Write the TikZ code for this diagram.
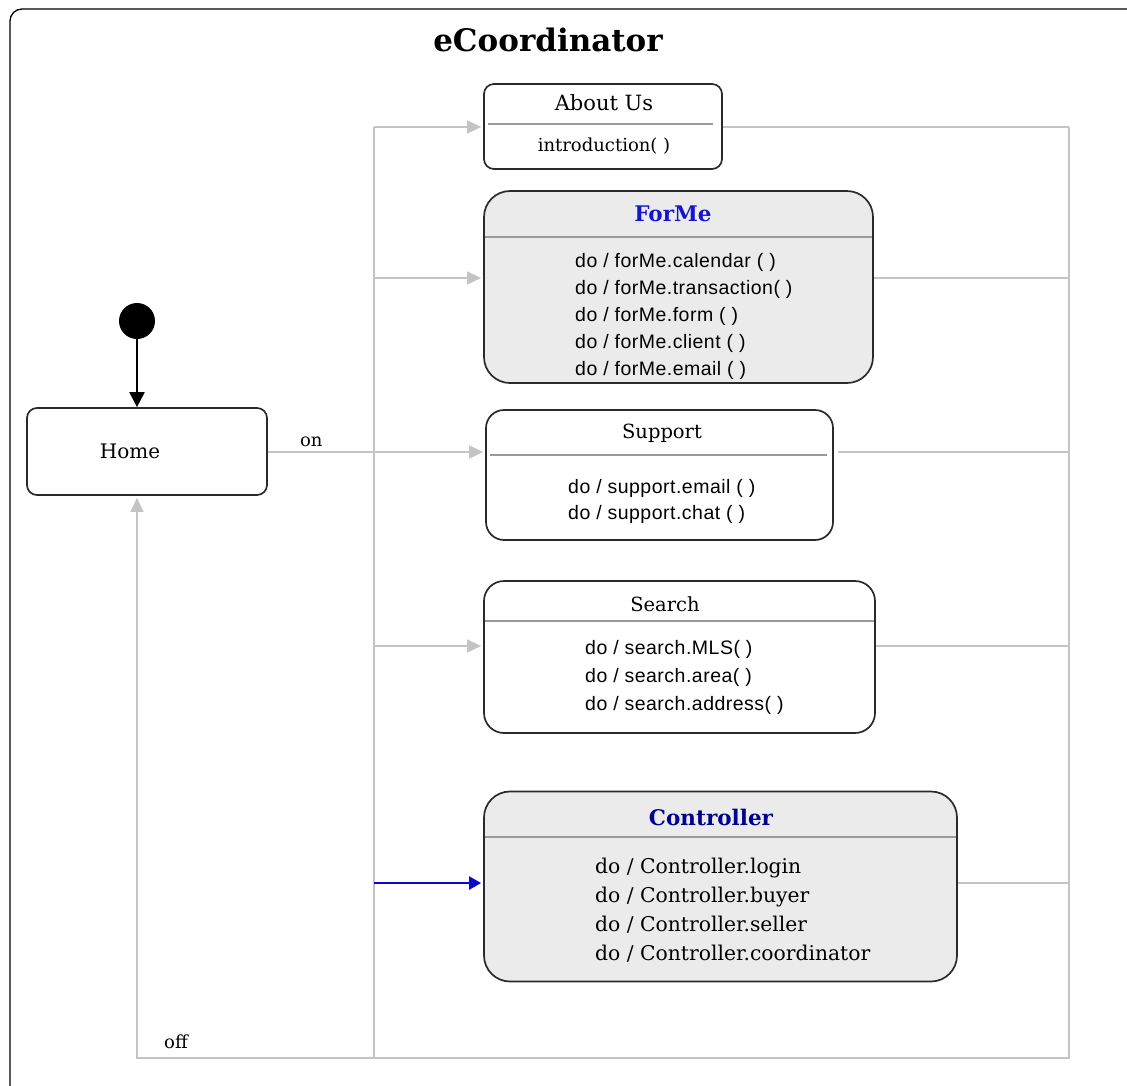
\documentclass[tikz,border=0pt]{standalone}
\usepackage{fontspec}
\setmainfont{DejaVu Serif}
\newfontfamily\lsans[LetterSpace=2.5]{Liberation Sans}
\usetikzlibrary{arrows.meta}
\definecolor{lgray}{HTML}{C4C4C4}
\definecolor{boxfill}{HTML}{EBEBEB}
\definecolor{titleblue}{HTML}{1515D0}
\definecolor{navy}{HTML}{00008F}
\definecolor{divgray}{HTML}{9A9A9A}
\definecolor{edge}{HTML}{2A2A2A}
\definecolor{arrowblue}{HTML}{0A0ACC}
\begin{document}
\begin{tikzpicture}[x=1pt,y=-1pt,
  statebox/.style={draw=edge, line width=1.7pt, inner sep=0pt},
  divider/.style={draw=divgray, line width=1.6pt},
  hd/.style={font=\fontsize{19.5}{22}\selectfont, inner sep=0pt},
  bluehd/.style={font=\bfseries\fontsize{#1}{22}\selectfont, inner sep=0pt},
  sbody/.style={font=\lsans\fontsize{19.5}{#1}\selectfont, align=left, anchor=west, inner sep=0pt},
  gline/.style={draw=lgray, line width=1.5pt},
  garrow/.style={gline, -{Triangle[length=14pt,width=13pt]}, shorten >=2pt},
  lbl/.style={font=\fontsize{18}{20}\selectfont, inner sep=0pt}
]
\useasboundingbox (0,0) rectangle (1127,1085);
\fill[white] (0,0) rectangle (1127,1085);
% outer frame
\draw[line width=1.3pt, rounded corners=12pt] (10,9) rectangle (1150,1100);
\node[font=\bfseries\fontsize{31}{33}\selectfont, inner sep=0pt] (title) at (548,40) {eCoordinator};

% states
\node[statebox, rounded corners=10pt, minimum width=238pt, minimum height=85pt] (about) at (603,126.5) {};
\draw[divider] (488,124) -- (713,124);
\node[font=\fontsize{21}{22}\selectfont, inner sep=0pt] (aboutT) at (604,103) {About Us};
\node[font=\fontsize{18}{20}\selectfont, inner sep=0pt] (aboutB) at (604,146) {introduction( )};

\node[statebox, fill=boxfill, rounded corners=26pt, minimum width=389pt, minimum height=192pt] (forme) at (678.5,287) {};
\draw[divider] (485,237) -- (872,237);
\node[bluehd=21.5, text=titleblue] (formeT) at (673,214) {ForMe};
\node[sbody=27] (formeB) at (575,316) {do / forMe.calendar ( )\\do / forMe.transaction( )\\do / forMe.form ( )\\do / forMe.client ( )\\do / forMe.email ( )};

\node[statebox, rounded corners=10pt, minimum width=240pt, minimum height=87pt] (home) at (147,451.5) {};
\node[font=\fontsize{20}{22}\selectfont, inner sep=0pt] (homeT) at (130,451) {Home};

\node[statebox, rounded corners=18pt, minimum width=347pt, minimum height=130pt] (support) at (659.5,475) {};
\draw[divider] (490,455) -- (827,455);
\node[hd] (supportT) at (662,433) {Support};
\node[sbody=26] (supportB) at (568,501) {do / support.email ( )\\do / support.chat ( )};

\node[statebox, rounded corners=20pt, minimum width=391pt, minimum height=152pt] (search) at (679.5,657) {};
\draw[divider] (485,621) -- (874,621);
\node[hd] (searchT) at (665,604) {Search};
\node[sbody=28] (searchB) at (585,677) {do / search.MLS( )\\do / search.area( )\\do / search.address( )};

\node[statebox, fill=boxfill, rounded corners=26pt, minimum width=473pt, minimum height=190pt] (ctrl) at (720.5,886.5) {};
\draw[divider] (485,837) -- (956,837);
\node[bluehd=21.5, text=navy] (ctrlT) at (711,817) {Controller};
\node[font=\fontsize{20.3}{29}\selectfont, align=left, anchor=west, inner sep=0pt] (ctrlB) at (595,910) {do / Controller.login\\do / Controller.buyer\\do / Controller.seller\\do / Controller.coordinator};

% initial state
\node[circle, fill=black, inner sep=0pt, minimum size=36pt] (init) at (137,321) {};
\draw[line width=2pt, -{Triangle[length=15pt,width=15pt]}] (init.south) -- (init.south |- home.north);

% fork / join coordinates
\coordinate (lA) at (374,127);
\coordinate (lF) at (374,278);
\coordinate (lQ) at (374,646);
\coordinate (lC) at (374,883);
\coordinate (lB) at (374,1058);
\coordinate (rA) at (1069,127);
\coordinate (rB) at (1069,1058);
\coordinate (hB) at (137,1058);
\coordinate (sY) at (0,452);

% incoming transitions
\draw[gline] (lA) -- (lB);
\draw[garrow] (lA) -- (lA -| about.west);
\draw[garrow] (lF) -- (lF -| forme.west);
\draw[garrow] (home.east |- sY) -- (sY -| support.west) node[lbl, above, pos=0.2, yshift=5pt] (onlbl) {on};
\draw[garrow] (lQ) -- (lQ -| search.west);
\draw[line width=2.2pt, draw=arrowblue, -{Triangle[length=12pt,width=13pt]}, shorten >=2pt] (lC) -- (lC -| ctrl.west);

% outgoing transitions
\draw[gline] (about.east |- rA) -- (rA);
\draw[gline] (lF -| forme.east) -- (lF -| rA);
\draw[gline] ([xshift=4pt]sY -| support.east) -- (sY -| rA);
\draw[gline] (lQ -| search.east) -- (lQ -| rA);
\draw[gline] (lC -| ctrl.east) -- (lC -| rA);
\draw[garrow] (rA) -- (rB) -- (hB) -- (hB |- home.south);
\node[lbl] (offlbl) at (176,1042) {off};
\end{tikzpicture}
\end{document}
